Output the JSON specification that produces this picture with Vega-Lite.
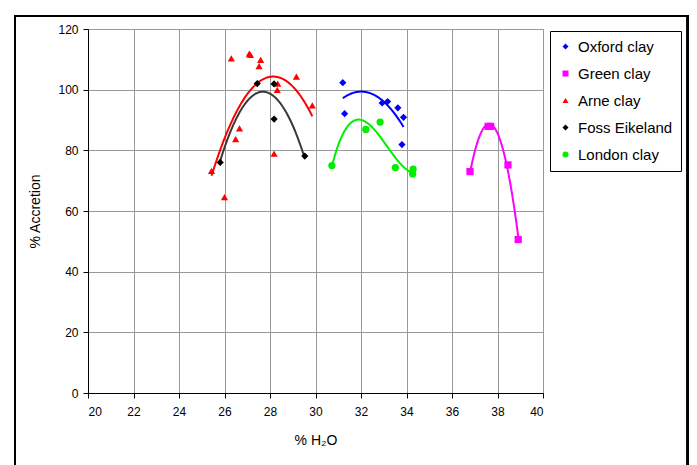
{
  "$schema": "https://vega.github.io/schema/vega-lite/v6.json",
  "width": 455,
  "height": 364,
  "autosize": {"type": "none"},
  "padding": {"left": 88, "top": 29, "right": 154, "bottom": 72},
  "background": "white",
  "config": {
    "font": "Liberation Sans",
    "view": {"stroke": "#999999", "strokeWidth": 1},
    "axis": {
      "labelFont": "Liberation Sans",
      "titleFont": "Liberation Sans",
      "labelColor": "#000000",
      "titleColor": "#000000",
      "labelFontSize": 12,
      "titleFontSize": 14,
      "titleFontWeight": "normal",
      "domainColor": "#000000",
      "domainWidth": 1,
      "tickColor": "#000000",
      "tickSize": 5,
      "gridColor": "#999999",
      "gridWidth": 1
    }
  },
  "data": {
    "values": [
      {"clay": "Oxford clay", "h2o": 31.2, "accretion": 102.3},
      {"clay": "Oxford clay", "h2o": 31.28, "accretion": 92.1},
      {"clay": "Oxford clay", "h2o": 32.93, "accretion": 95.6},
      {"clay": "Oxford clay", "h2o": 33.17, "accretion": 96.1},
      {"clay": "Oxford clay", "h2o": 33.62, "accretion": 94.0},
      {"clay": "Oxford clay", "h2o": 33.87, "accretion": 90.9},
      {"clay": "Oxford clay", "h2o": 33.8, "accretion": 81.9},
      {"clay": "Green clay", "h2o": 36.79, "accretion": 73.0},
      {"clay": "Green clay", "h2o": 37.59, "accretion": 87.9},
      {"clay": "Green clay", "h2o": 37.7, "accretion": 87.9},
      {"clay": "Green clay", "h2o": 38.46, "accretion": 75.2},
      {"clay": "Green clay", "h2o": 38.91, "accretion": 50.6},
      {"clay": "Arne clay", "h2o": 25.43, "accretion": 73.2},
      {"clay": "Arne clay", "h2o": 26.0, "accretion": 64.6},
      {"clay": "Arne clay", "h2o": 26.3, "accretion": 110.3},
      {"clay": "Arne clay", "h2o": 26.49, "accretion": 83.7},
      {"clay": "Arne clay", "h2o": 26.66, "accretion": 87.2},
      {"clay": "Arne clay", "h2o": 27.09, "accretion": 111.9},
      {"clay": "Arne clay", "h2o": 27.14, "accretion": 111.5},
      {"clay": "Arne clay", "h2o": 27.52, "accretion": 107.8},
      {"clay": "Arne clay", "h2o": 27.59, "accretion": 109.8},
      {"clay": "Arne clay", "h2o": 28.18, "accretion": 78.9},
      {"clay": "Arne clay", "h2o": 28.32, "accretion": 99.9},
      {"clay": "Arne clay", "h2o": 28.34, "accretion": 102.0},
      {"clay": "Arne clay", "h2o": 29.16, "accretion": 104.3},
      {"clay": "Arne clay", "h2o": 29.86, "accretion": 94.8},
      {"clay": "Foss Eikeland", "h2o": 25.81, "accretion": 76.0},
      {"clay": "Foss Eikeland", "h2o": 27.44, "accretion": 102.0},
      {"clay": "Foss Eikeland", "h2o": 28.18, "accretion": 101.9},
      {"clay": "Foss Eikeland", "h2o": 28.18, "accretion": 90.3},
      {"clay": "Foss Eikeland", "h2o": 29.53, "accretion": 78.1},
      {"clay": "London clay", "h2o": 30.72, "accretion": 75.0},
      {"clay": "London clay", "h2o": 32.21, "accretion": 86.9},
      {"clay": "London clay", "h2o": 32.84, "accretion": 89.3},
      {"clay": "London clay", "h2o": 33.51, "accretion": 74.3},
      {"clay": "London clay", "h2o": 34.29, "accretion": 73.8},
      {"clay": "London clay", "h2o": 34.27, "accretion": 72.2}
    ]
  },
  "encoding": {
    "x": {
      "field": "h2o",
      "type": "quantitative",
      "scale": {"domain": [20, 40], "nice": false, "zero": false},
      "axis": {
        "title": "% H₂O",
        "values": [20, 22, 24, 26, 28, 30, 32, 34, 36, 38, 40],
        "labelPadding": 8,
        "titlePadding": 16,
        "grid": true
      }
    },
    "y": {
      "field": "accretion",
      "type": "quantitative",
      "scale": {"domain": [0, 120], "nice": false},
      "axis": {
        "title": "% Accretion",
        "values": [0, 20, 40, 60, 80, 100, 120],
        "labelPadding": 5,
        "titlePadding": 15,
        "grid": true
      }
    }
  },
  "layer": [
    {
      "description": "Chart-area border drawn in data units around the whole figure",
      "mark": {"type": "rect", "filled": false, "stroke": "#000000", "strokeWidth": 1.5, "clip": false},
      "encoding": {
        "x": {"datum": 16.8, "type": "quantitative"},
        "x2": {"datum": 46.36},
        "y": {"datum": 124.3, "type": "quantitative"},
        "y2": {"datum": -26}
      }
    },
    {
      "transform": [
        {"filter": "datum.clay === 'Oxford clay'"},
        {"regression": "accretion", "on": "h2o", "method": "poly", "order": 2}
      ],
      "mark": {"type": "line", "strokeWidth": 2, "stroke": "#0000ff"},
      "encoding": {}
    },
    {
      "transform": [
        {"filter": "datum.clay === 'Green clay'"},
        {"regression": "accretion", "on": "h2o", "method": "poly", "order": 2}
      ],
      "mark": {"type": "line", "strokeWidth": 2, "stroke": "#ff00ff"},
      "encoding": {}
    },
    {
      "transform": [
        {"filter": "datum.clay === 'Arne clay'"},
        {"regression": "accretion", "on": "h2o", "method": "poly", "order": 2}
      ],
      "mark": {"type": "line", "strokeWidth": 2, "stroke": "#ff0000"},
      "encoding": {}
    },
    {
      "transform": [
        {"filter": "datum.clay === 'Foss Eikeland'"},
        {"regression": "accretion", "on": "h2o", "method": "poly", "order": 2}
      ],
      "mark": {"type": "line", "strokeWidth": 2, "stroke": "#3a3a3a"},
      "encoding": {}
    },
    {
      "transform": [
        {"filter": "datum.clay === 'London clay'"},
        {"regression": "accretion", "on": "h2o", "method": "poly", "order": 3}
      ],
      "mark": {"type": "line", "strokeWidth": 2, "stroke": "#00ee00"},
      "encoding": {}
    },
    {
      "mark": {"type": "point", "filled": true, "opacity": 1, "size": 52},
      "encoding": {
        "shape": {
          "field": "clay",
          "type": "nominal",
          "scale": {
            "domain": ["Oxford clay", "Green clay", "Arne clay", "Foss Eikeland", "London clay"],
            "range": ["diamond", "square", "triangle-up", "diamond", "circle"]
          },
          "legend": {
            "title": null,
            "orient": "none",
            "legendX": 462,
            "legendY": 2,
            "direction": "vertical",
            "strokeColor": "#000000",
            "fillColor": "white",
            "padding": 8,
            "rowPadding": 11,
            "symbolSize": 36,
            "symbolStrokeWidth": 0,
            "labelFont": "Liberation Sans",
            "labelFontSize": 15,
            "labelColor": "#000000",
            "labelOffset": 5
          }
        },
        "color": {
          "field": "clay",
          "type": "nominal",
          "scale": {
            "domain": ["Oxford clay", "Green clay", "Arne clay", "Foss Eikeland", "London clay"],
            "range": ["#0000ff", "#ff00ff", "#ff0000", "#000000", "#00ee00"]
          },
          "legend": {
            "title": null,
            "orient": "none",
            "legendX": 462,
            "legendY": 2,
            "direction": "vertical",
            "strokeColor": "#000000",
            "fillColor": "white",
            "padding": 8,
            "rowPadding": 11,
            "symbolSize": 36,
            "symbolStrokeWidth": 0,
            "labelFont": "Liberation Sans",
            "labelFontSize": 15,
            "labelColor": "#000000",
            "labelOffset": 5
          }
        }
      }
    }
  ]
}
